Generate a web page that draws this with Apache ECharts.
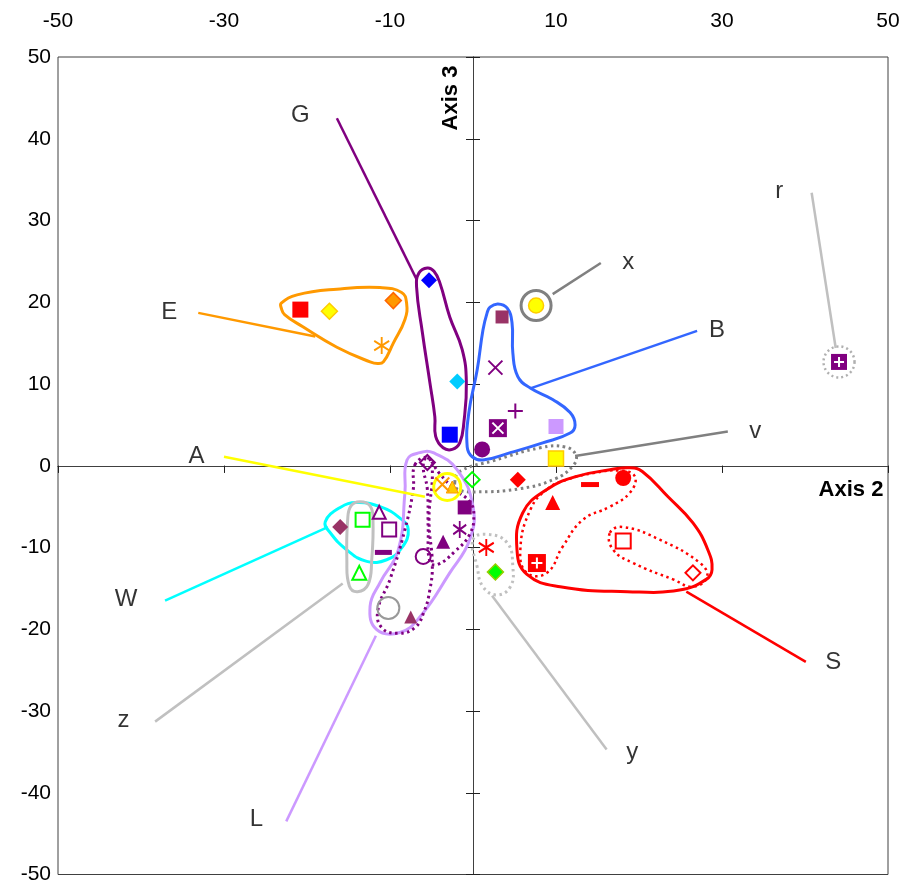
<!DOCTYPE html>
<html><head><meta charset="utf-8">
<script src="https://cdn.jsdelivr.net/npm/echarts@6/dist/echarts.min.js"></script>
<style>html,body{margin:0;padding:0;background:#fff}#c{width:904px;height:885px}</style>
</head><body><div id="c"></div>
<script>
// ---------- axis settings ----------
const axisMin = -50, axisMax = 50;
const xTickStep = 20, yTickStep = 10;

// ---------- point values (Axis 2, Axis 3) ----------
const redFilledSquare = [[-20.8, 19.1]];
const yellowDiamond = [[-17.3, 18.9]];
const orangeDiamond = [[-9.6, 20.2]];
const orangeAsterisk = [[-11.0, 14.7]];
const blueDiamond = [[-5.3, 22.7]];
const cyanDiamond = [[-1.9, 10.3]];
const blueSquare = [[-2.8, 3.8]];
const maroonSquare = [[3.5, 18.2]];
const purpleCross = [[2.7, 12.0]];
const purplePlus = [[5.1, 6.7]];
const purpleSquareCross = [[3.0, 4.6]];
const lilacSquare = [[10.0, 4.8]];
const purpleCircle = [[1.1, 2.0]];
const yellowCircle = [[7.6, 19.6]];
const yellowSquare = [[10.0, 0.9]];
const purpleSquarePlus = [[44.1, 12.7]];
const greenHollowDiamond = [[-0.1, -1.7]];
const redDiamond = [[5.4, -1.7]];
const redDash = [[14.1, -2.3]];
const redCircle = [[18.1, -1.5]];
const redTriangle = [[9.6, -4.5]];
const redSquarePlus = [[7.7, -11.9]];
const redHollowSquare = [[18.1, -9.2]];
const redHollowDiamond = [[26.5, -13.1]];
const redAsterisk = [[1.6, -10.0]];
const greenDiamond = [[2.7, -13.0]];
const purpleHollowDiamond = [[-5.5, 0.4]];
const orangeCross = [[-3.7, -2.3]];
const yellowTriangle = [[-2.5, -2.6]];
const purpleSquare = [[-1.0, -5.1]];
const purpleAsterisk = [[-1.6, -7.8]];
const purpleTriangle = [[-3.6, -9.3]];
const purpleHollowCircle = [[-6.0, -11.1]];
const grayHollowCircle = [[-10.2, -17.4]];
const maroonTriangle = [[-7.5, -18.5]];
const maroonDiamond = [[-16.0, -7.5]];
const greenHollowSquare = [[-13.3, -6.6]];
const purpleHollowTriangle = [[-11.3, -5.7]];
const purpleHollowSquare = [[-10.1, -7.8]];
const purpleDash = [[-10.8, -10.6]];
const greenHollowTriangle = [[-13.7, -13.1]];
const ringA = [[-3.1, -2.6]];

// ---------- group outlines (Axis 2, Axis 3) ----------
const hullE = [[-23.1,19.9],[-21.2,20.9],[-16.4,21.6],[-11.2,21.8],[-8.6,21.2],[-8.0,19.9],[-8.2,17.9],[-9.6,15.0],[-10.8,12.7],[-11.5,12.5],[-12.4,12.7],[-16.4,14.5],[-20.5,17.0],[-22.7,18.5],[-23.1,19.3]];
const hullG = [[-5.5,24.2],[-6.5,23.6],[-6.8,21.9],[-6.1,16.3],[-5.2,10.2],[-4.6,6.0],[-4.5,3.6],[-3.6,2.2],[-2.5,2.0],[-1.6,2.8],[-1.1,5.3],[-0.8,10.2],[-1.3,14.2],[-2.8,18.2],[-4.0,22.4],[-4.7,23.8]];
const hullB = [[2.05,19.4],[3.0,19.8],[4.1,19.3],[4.7,17.5],[4.8,13.8],[5.4,10.9],[6.9,9.5],[9.6,8.1],[11.7,6.5],[12.3,5.0],[11.7,4.0],[8.4,2.8],[4.5,1.6],[1.2,0.7],[-0.1,1.1],[-0.7,2.3],[-0.5,6.5],[0.5,11.7],[1.2,16.6],[1.7,18.7]];
const hullV = [[-2.2,-2.1],[-1.6,-0.7],[2.4,0.6],[8.1,2.2],[11.1,2.3],[12.4,1.3],[12.05,0],[9.9,-1.6],[5.7,-2.8],[0.2,-3.2],[-1.8,-2.9]];
const hullS = [[6.0,-5.75],[8.9,-2.9],[12.5,-1.3],[16.5,-0.5],[18.9,-0.24],[20.4,-0.7],[23.5,-3.8],[26.5,-7.0],[28.3,-10.3],[28.8,-12.7],[28.1,-13.9],[24.9,-15.2],[18.6,-15.4],[10.5,-14.8],[6.5,-13.3],[5.3,-10.3]];
const hullS1 = [[8.9,-2.9],[6.9,-5.4],[5.7,-10.3],[6.5,-13.1],[8.9,-13.1],[10.8,-9.9],[13.25,-6.6],[16.5,-5.0],[18.9,-3.3],[19.5,-1.3],[17.7,-0.6],[14.5,-0.9],[11.3,-1.7]];
const hullS2 = [[16.5,-8.2],[18.1,-7.5],[22.5,-9.05],[27.35,-11.9],[28.2,-13.6],[26.5,-14.8],[24.1,-13.9],[19.3,-11.9],[16.9,-10.3]];
const hullY = [[0,-9.05],[1.7,-8.4],[4.1,-9.4],[4.8,-12.35],[4.5,-14.8],[2.9,-15.8],[1.2,-14.8],[0.5,-12.35]];
const hullW = [[-17.8,-6.85],[-16.0,-5.1],[-14.0,-4.5],[-11.2,-5.0],[-8.8,-6.4],[-7.8,-7.8],[-8.55,-10.0],[-10.4,-11.5],[-12.8,-11.7],[-15.2,-10.3],[-17.2,-8.2]];
const hullZ = [[-13.6,-4.4],[-12.4,-4.9],[-12.05,-6.6],[-12.2,-11.5],[-12.65,-14.55],[-13.9,-15.4],[-14.9,-14.7],[-15.2,-11.5],[-15.1,-6.6],[-14.7,-4.9]];
const hullL = [[-6.4,1.6],[-4.8,1.6],[-1.9,-0.5],[0,-5.0],[-0.4,-9.05],[-2.8,-13.1],[-6.4,-18.5],[-8.8,-20.4],[-11.6,-20.05],[-12.4,-17.2],[-11.2,-14.3],[-9.0,-10.3],[-8.2,-3.3],[-7.95,0.7]];
const hullL1 = [[-7.0,0.1],[-5.5,1.0],[-4.9,-0.5],[-5.3,-6.6],[-4.9,-12.1],[-5.2,-15.2],[-5.9,-17.85],[-7.0,-19.8],[-9.0,-20.5],[-11.0,-19.8],[-11.45,-17.6],[-10.0,-13.9],[-8.2,-7.8],[-7.2,-2.9]];
const hullL2 = [[-5.5,1.0],[-4.0,-1.0],[-2.2,-2.9],[-0.4,-4.4],[0.1,-6.0],[-0.4,-8.4],[-2.2,-10.5],[-4.3,-12.1],[-5.2,-11.7],[-5.4,-7.8],[-5.5,-2.9],[-6.0,0]];

// ---------- group names, label anchors and leader lines ----------
const groupNames = ['G','E','x','B','r','v','A','W','z','L','y','S'];
const labelAnchors = [[-20.8,42.9],[-36.6,18.8],[18.7,24.9],[29.4,16.5],[36.9,33.6],[34.0,4.2],[-33.3,1.2],[-41.8,-16.3],[-42.1,-31.2],[-26.1,-43.3],[19.2,-35.0],[43.4,-24.0]];
const leaderLines = [
  [[-16.4,42.5],[-6.75,22.7]],
  [[-33.1,18.7],[-19.0,15.8]],
  [[15.4,24.8],[9.6,21.0]],
  [[27.0,16.5],[7.0,9.5]],
  [[40.8,33.4],[43.7,14.4]],
  [[30.7,4.2],[12.3,1.2]],
  [[-30.0,1.1],[-5.8,-3.8]],
  [[-37.1,-16.5],[-17.5,-7.5]],
  [[-38.3,-31.3],[-15.7,-14.4]],
  [[-22.5,-43.5],[-11.7,-20.8]],
  [[16.1,-34.7],[2.3,-15.9]],
  [[40.1,-24.0],[25.7,-15.4]]
];
const leaderColors = ['#800080','#ff9900','#808080','#3366ff','#c0c0c0','#808080','#ffff00','#00ffff','#c0c0c0','#cc99ff','#c0c0c0','#ff0000'];

// ---------- styles ----------
const FONT = "'Liberation Sans', Arial, Helvetica, sans-serif";
const P_PLUS = 'path://M5,0L5,10M0,5L10,5';
const P_CROSS = 'path://M0,0L10,10M10,0L0,10';
const P_AST = 'path://M5,0L5,10M0.6,2.2L9.4,7.8M9.4,2.2L0.6,7.8';
const NONE = 'rgba(0,0,0,0)';

function mk(data, symbol, size, fill, stroke, lw, extra) {
  const s = {
    type: 'scatter', data: data, symbol: symbol, symbolSize: size, z: 5, silent: true,
    emphasis: {disabled: true},
    itemStyle: {color: fill || NONE, borderColor: stroke || NONE, borderWidth: stroke ? lw : 0, opacity: 1}
  };
  if (extra) Object.assign(s.itemStyle, extra);
  return s;
}

function hull(points, color, dotted, width) {
  return {
    type: 'custom', silent: true, z: 2, data: [points[0]],
    renderItem: function (params, api) {
      const pts = points.map(function (p) { return api.coord(p); });
      return {
        type: 'polygon',
        shape: {points: pts, smooth: 0.45},
        style: {fill: 'none', stroke: color, lineWidth: width, lineDash: dotted ? [2.5, 3.5] : null}
      };
    }
  };
}

const series = [];
// outlines
series.push(hull(hullE, '#ff9900', false, 3));
series.push(hull(hullG, '#800080', false, 3));
series.push(hull(hullB, '#3366ff', false, 3));
series.push(hull(hullV, '#808080', true, 3));
series.push(hull(hullS, '#ff0000', false, 3));
series.push(hull(hullS1, '#ff0000', true, 2.5));
series.push(hull(hullS2, '#ff0000', true, 2.5));
series.push(hull(hullY, '#c0c0c0', true, 3));
series.push(hull(hullW, '#00ffff', false, 3));
series.push(hull(hullZ, '#c0c0c0', false, 3));
series.push(hull(hullL, '#cc99ff', false, 3));
series.push(hull(hullL1, '#800080', true, 3));
series.push(hull(hullL2, '#800080', true, 3));

// leader lines
leaderLines.forEach(function (seg, i) {
  series.push({type: 'line', data: seg, showSymbol: false, symbol: 'none', silent: true, z: 3,
    lineStyle: {color: leaderColors[i], width: 2.5}, emphasis: {disabled: true}});
});

// group labels
series.push({
  type: 'scatter', symbolSize: 1, silent: true, z: 6,
  itemStyle: {color: NONE},
  data: labelAnchors.map(function (p, i) { return {value: p, name: groupNames[i]}; }),
  label: {show: true, position: 'inside', formatter: function (p) { return p.name; },
    fontSize: 24, color: '#000', fontFamily: FONT}
});

// rings
series.push(mk(yellowCircle, 'circle', 30, null, '#808080', 3));
series.push(mk(purpleSquarePlus, 'circle', 31, null, '#b0b0b0', 2.5, {borderType: [2, 3]}));
series.push(mk(ringA, 'circle', 27, null, '#ffff00', 3));

// markers
series.push(mk(redFilledSquare, 'rect', 16, '#ff0000'));
series.push(mk(yellowDiamond, 'diamond', 16, '#ffff00', '#ffcc00', 1.5));
series.push(mk(orangeDiamond, 'diamond', 16, '#ff9900', '#ff6600', 1.5));
series.push(mk(orangeAsterisk, P_AST, [15, 17], null, '#ff9900', 2));
series.push(mk(blueDiamond, 'diamond', 16, '#0000ff'));
series.push(mk(cyanDiamond, 'diamond', 16, '#00ccff'));
series.push(mk(blueSquare, 'rect', 16, '#0000ff'));
series.push(mk(maroonSquare, 'rect', 13, '#993366'));
series.push(mk(purpleCross, P_CROSS, 14, null, '#800080', 2));
series.push(mk(purplePlus, P_PLUS, 15, null, '#800080', 2));
series.push(mk(purpleSquareCross, 'rect', 18, '#800080'));
series.push(mk(purpleSquareCross, P_CROSS, 11, null, '#ffffff', 2));
series.push(mk(lilacSquare, 'rect', 15, '#cc99ff'));
series.push(mk(purpleCircle, 'circle', 16, '#800080'));
series.push(mk(yellowCircle, 'circle', 15, '#ffff00', '#ffcc00', 1.5));
series.push(mk(yellowSquare, 'rect', 15, '#ffff00', '#ffcc00', 1.5));
series.push(mk(purpleSquarePlus, 'rect', 16, '#800080'));
series.push(mk(purpleSquarePlus, P_PLUS, 10, null, '#ffffff', 2));
series.push(mk(greenHollowDiamond, 'diamond', 15, null, '#00ff00', 2));
series.push(mk(redDiamond, 'diamond', 16, '#ff0000'));
series.push(mk(redDash, 'rect', [18, 5], '#ff0000'));
series.push(mk(redCircle, 'circle', 16, '#ff0000'));
series.push(mk(redTriangle, 'triangle', 15, '#ff0000'));
series.push(mk(redSquarePlus, 'rect', 18, '#ff0000'));
series.push(mk(redSquarePlus, P_PLUS, 11, null, '#ffffff', 2));
series.push(mk(redHollowSquare, 'rect', 15, null, '#ff0000', 2));
series.push(mk(redHollowDiamond, 'diamond', 15, null, '#ff0000', 2));
series.push(mk(redAsterisk, P_AST, [15, 17], null, '#ff0000', 2));
series.push(mk(greenDiamond, 'diamond', 16, '#00ff00', '#99cc00', 1.5));
series.push(mk(purpleHollowDiamond, 'diamond', 15, null, '#800080', 2));
series.push(mk(yellowTriangle, 'triangle', 12, '#ffcc00', '#ff9900', 1));
series.push(mk(orangeCross, P_CROSS, 14, null, '#ff9900', 2));
series.push(mk(purpleSquare, 'rect', 14, '#800080'));
series.push(mk(purpleAsterisk, P_AST, [13, 17], null, '#800080', 2));
series.push(mk(purpleTriangle, 'triangle', 14, '#800080'));
series.push(mk(purpleHollowCircle, 'circle', 15, null, '#800080', 2));
series.push(mk(grayHollowCircle, 'circle', 22, null, '#999999', 2));
series.push(mk(maroonTriangle, 'triangle', 13, '#993366'));
series.push(mk(maroonDiamond, 'diamond', 16, '#993366'));
series.push(mk(greenHollowSquare, 'rect', 14, null, '#00ff00', 2));
series.push(mk(purpleHollowTriangle, 'triangle', 13, null, '#800080', 2));
series.push(mk(purpleHollowSquare, 'rect', 14, null, '#800080', 2));
series.push(mk(purpleDash, 'rect', [17, 5], '#800080'));
series.push(mk(greenHollowTriangle, 'triangle', 14, null, '#00ff00', 2));

function centerAxis(step, inside) {
  return {
    type: 'value', min: axisMin, max: axisMax, interval: step,
    axisLine: {show: true, onZero: true, onZeroAxisIndex: 0, lineStyle: {color: '#404040', width: 1}},
    axisTick: {show: true, inside: inside, length: 7, lineStyle: {color: '#202020', width: 1}},
    axisLabel: {show: false}, splitLine: {show: false}
  };
}

const chart = echarts.init(document.getElementById('c'), null, {renderer: 'canvas'});
chart.setOption({
  animation: false,
  backgroundColor: '#fff',
  grid: {left: 58, right: 16, top: 57, bottom: 10, show: true, borderColor: '#404040', borderWidth: 1, backgroundColor: 'transparent'},
  xAxis: [
    {type: 'value', position: 'top', min: axisMin, max: axisMax, interval: xTickStep,
      axisLine: {show: false}, axisTick: {show: false}, splitLine: {show: false},
      axisLabel: {fontSize: 21, color: '#000', fontFamily: FONT, margin: 25}},
    centerAxis(xTickStep, false),
    centerAxis(xTickStep, true)
  ],
  yAxis: [
    {type: 'value', position: 'left', min: axisMin, max: axisMax, interval: yTickStep,
      axisLine: {show: false}, axisTick: {show: false}, splitLine: {show: false},
      axisLabel: {fontSize: 21, color: '#000', fontFamily: FONT, margin: 7}},
    centerAxis(yTickStep, false),
    centerAxis(yTickStep, true)
  ],
  graphic: [
    {type: 'text', x: 451, y: 98, rotation: Math.PI / 2, z: 10,
      style: {text: 'Axis 3', font: 'bold 22px ' + FONT, fill: '#000', textAlign: 'center', textVerticalAlign: 'middle', align: 'center', verticalAlign: 'middle'}},
    {type: 'text', x: 851, y: 490, z: 10,
      style: {text: 'Axis 2', font: 'bold 22px ' + FONT, fill: '#000', textAlign: 'center', textVerticalAlign: 'middle', align: 'center', verticalAlign: 'middle'}}
  ],
  series: series
});
</script></body></html>
